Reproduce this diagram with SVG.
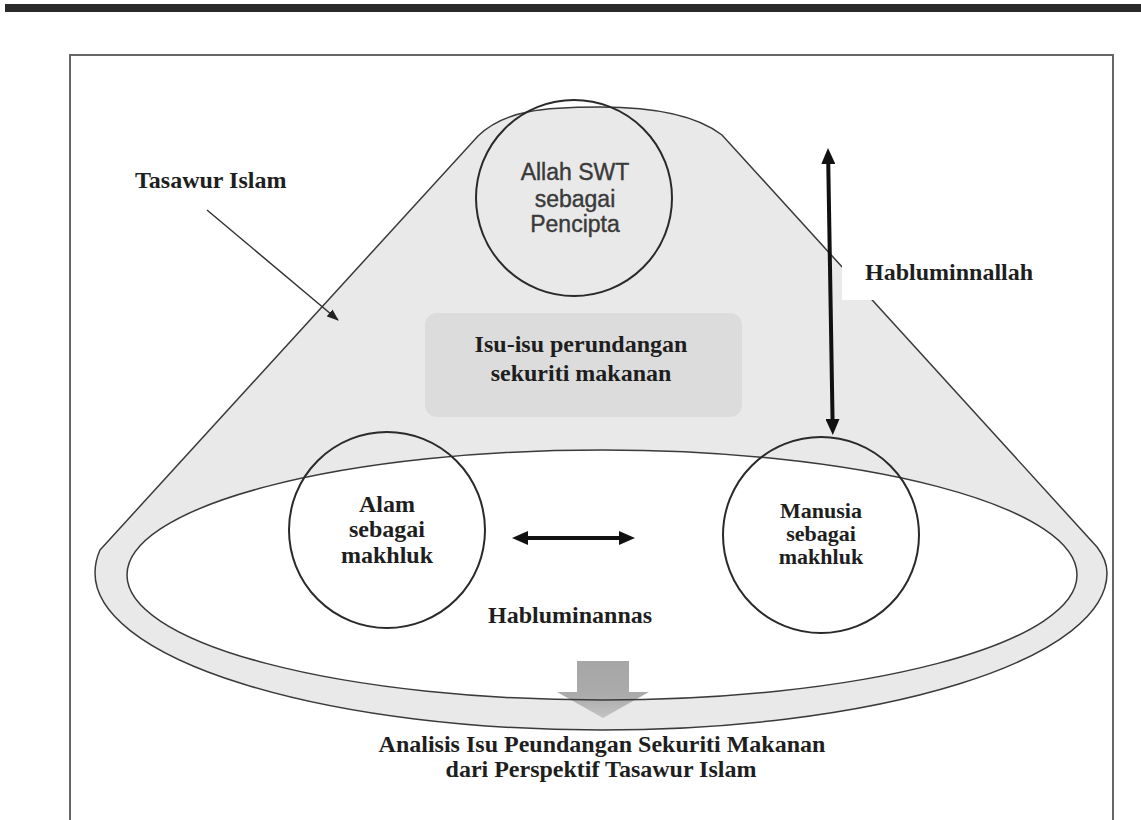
<svg xmlns="http://www.w3.org/2000/svg" width="1141" height="820" viewBox="0 0 1141 820">
  <style>
    .serif { font-family: "Liberation Serif", "Times New Roman", serif; font-weight: bold; fill: #1e1e1e; }
    .sans { font-family: "Liberation Sans", Arial, sans-serif; fill: #3a3a3a; stroke: #3a3a3a; stroke-width: 0.4; }
    .outline { fill: none; stroke: #3a3a3a; stroke-width: 1.5; }
    .circle { fill: none; stroke: #2a2a2a; stroke-width: 2; }
    .thick { stroke: #111; stroke-width: 4; fill: none; }
    .thin { stroke: #333; stroke-width: 1.5; fill: none; }
  </style>
  <defs>
    <marker id="bigHead" viewBox="0 0 16 14" markerWidth="16" markerHeight="14" refX="4" refY="7" orient="auto-start-reverse" markerUnits="userSpaceOnUse">
      <path d="M0,0 L16,7 L0,14 Z" fill="#111"/>
    </marker>
    <marker id="smallHead" viewBox="0 0 12 9" markerWidth="12" markerHeight="9" refX="11" refY="4.5" orient="auto" markerUnits="userSpaceOnUse">
      <path d="M0,0 L12,4.5 L0,9 Z" fill="#222"/>
    </marker>
    <linearGradient id="downGrad" x1="0" y1="0" x2="0" y2="1">
      <stop offset="0" stop-color="#a6a6a6"/>
      <stop offset="0.6" stop-color="#ababab"/>
      <stop offset="1" stop-color="#c4c4c4"/>
    </linearGradient>
  </defs>

  <!-- page rule and frame -->
  <rect x="5" y="4" width="1136" height="8" fill="#2a2a2a"/>
  <path d="M70,820 L70,55 L1113,55 L1113,820" fill="none" stroke="#666" stroke-width="2"/>

  <!-- Tasawur Islam cone -->
  <g id="cone">
    <path d="M100,550 L478,136 C505,110 545,107 600,107 C660,107 700,118 722,135 L1097,547 Q1107,560 1107,573 A506 157 0 0 1 95,573 Q95,561 100,550 Z" fill="#e9e9e9" stroke="#3a3a3a" stroke-width="1.5"/>
  </g>

  <!-- white label area for Habluminnallah -->
  <rect x="842" y="238" width="210" height="62" fill="#ffffff"/>

  <!-- inner ellipse (fill) -->
  <ellipse cx="602" cy="575" rx="475" ry="125" fill="#ffffff"/>

  <!-- gray down arrow -->
  <g id="result-arrow">
    <path d="M577,661 L629,661 L629,692 L649,692 L603,718 L557,692 L577,692 Z" fill="url(#downGrad)"/>
  </g>

  <!-- inner ellipse (stroke on top) -->
  <ellipse cx="602" cy="575" rx="475" ry="125" class="outline"/>

  <g id="isu">
    <rect x="425" y="313" width="317" height="104" rx="12" ry="12" fill="#dcdcdc"/>
    <text class="serif" font-size="24" text-anchor="middle" x="581" y="352">Isu-isu perundangan</text>
    <text class="serif" font-size="24" text-anchor="middle" x="581" y="381">sekuriti makanan</text>
  </g>

  <g id="allah">
    <circle cx="574" cy="198" r="98" class="circle"/>
    <text class="sans" font-size="23" text-anchor="middle" x="575" y="180">Allah SWT</text>
    <text class="sans" font-size="23" text-anchor="middle" x="575" y="207">sebagai</text>
    <text class="sans" font-size="23" text-anchor="middle" x="575" y="232">Pencipta</text>
  </g>

  <g id="alam">
    <circle cx="387" cy="530" r="98" class="circle"/>
    <text class="serif" font-size="24" text-anchor="middle" x="387" y="512">Alam</text>
    <text class="serif" font-size="24" text-anchor="middle" x="387" y="537">sebagai</text>
    <text class="serif" font-size="24" text-anchor="middle" x="387" y="563">makhluk</text>
  </g>

  <g id="manusia">
    <circle cx="821" cy="535" r="98" class="circle"/>
    <text class="serif" font-size="22" text-anchor="middle" x="821" y="518">Manusia</text>
    <text class="serif" font-size="22" text-anchor="middle" x="821" y="541">sebagai</text>
    <text class="serif" font-size="22" text-anchor="middle" x="821" y="564">makhluk</text>
  </g>

  <g id="labels">
    <text id="tasawur-label" class="serif" font-size="24" x="135" y="188">Tasawur Islam</text>
    <text id="habluminnallah-label" class="serif" font-size="24" x="865" y="280">Habluminnallah</text>
    <text id="habluminannas-label" class="serif" font-size="24" x="488" y="623">Habluminannas</text>
    <text id="result-label" class="serif" font-size="24" text-anchor="middle">
      <tspan x="605" y="752">Analisis Isu Peundangan Sekuriti Makanan</tspan>
      <tspan x="601" y="777">dari Perspektif Tasawur Islam</tspan>
    </text>
  </g>

  <g id="connectors">
    <line x1="828.2" y1="160" x2="832.6" y2="423" class="thick" marker-start="url(#bigHead)" marker-end="url(#bigHead)"/>
    <line x1="524" y1="538" x2="623" y2="538" class="thick" marker-start="url(#bigHead)" marker-end="url(#bigHead)"/>
    <line x1="207" y1="210" x2="338" y2="320" class="thin" marker-end="url(#smallHead)"/>
  </g>
</svg>
